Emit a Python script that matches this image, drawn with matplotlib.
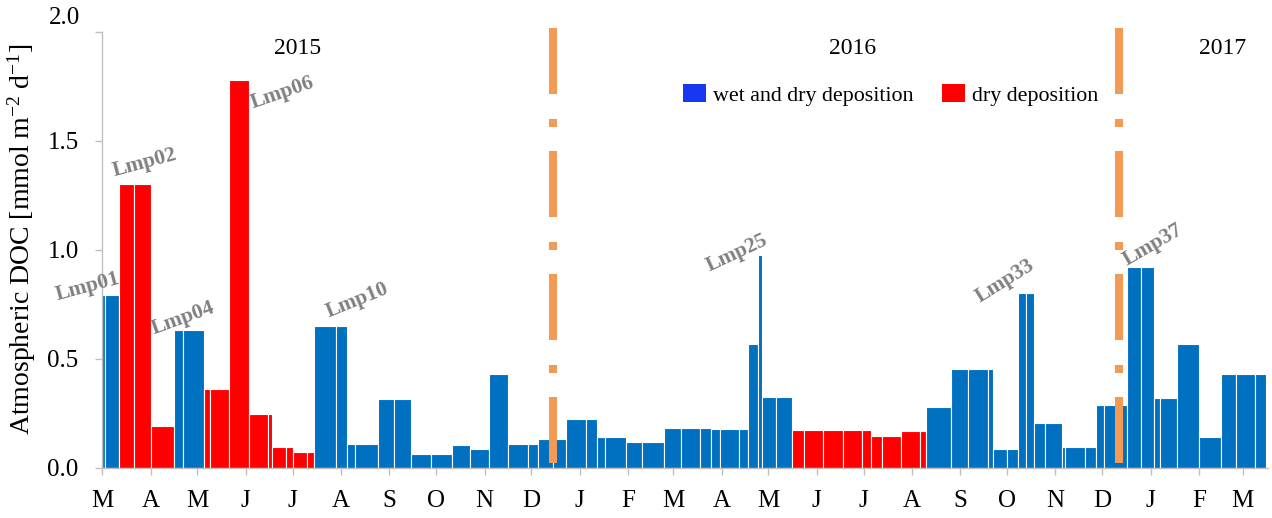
import numpy as np
import matplotlib
matplotlib.use("Agg")
import matplotlib.pyplot as plt
from matplotlib.patches import Patch

plt.rcParams['font.family'] = ['Liberation Serif', 'DejaVu Serif']
plt.rcParams['mathtext.fontset'] = 'custom'
plt.rcParams['mathtext.rm'] = 'Liberation Serif'
plt.rcParams['mathtext.it'] = 'Liberation Serif:italic'

# ---------------- data ----------------
start_date = np.datetime64('2015-03-01')
# sample interval edges, days after 2015-03-01
edges_day = [0, 2, 11, 20, 31, 46, 52, 65, 69, 81,
             94, 106, 109, 118, 122, 131, 136, 150, 157, 162,
             177, 187, 198, 211, 224, 236, 248, 260, 273,
             279, 289, 297, 310, 317, 322, 336, 346, 360, 371,
             383, 390, 396, 408, 414, 420, 423, 432, 442, 450,
             462, 475, 487, 493, 500, 512, 524, 528, 544, 555,
             568, 571, 580, 587, 592, 597, 604, 615, 617, 630,
             637, 642, 657, 666, 674, 678, 689, 703, 717,
             727, 739, 746]
doc_values = [0.79, 0.79, 1.30, 1.30, 0.19, 0.633, 0.633, 0.36, 0.36, 1.78,
              0.246, 0.246, 0.096, 0.096, 0.073, 0.073, 0.648, 0.648, 0.11, 0.11,
              0.314, 0.314, 0.061, 0.061, 0.103, 0.088, 0.428, 0.11, 0.11,
              0.132, 0.132, 0.225, 0.225, 0.142, 0.142, 0.119, 0.119, 0.183, 0.183,
              0.183, 0.177, 0.177, 0.177, 0.566, 0.975, 0.325, 0.325, 0.173, 0.173,
              0.173, 0.173, 0.173, 0.147, 0.147, 0.167, 0.167, 0.278, 0.454, 0.454,
              0.454, 0.084, 0.084, 0.80, 0.80, 0.204, 0.204, 0.096, 0.096, 0.096,
              0.287, 0.287, 0.922, 0.922, 0.321, 0.321, 0.567, 0.139, 0.428,
              0.428, 0.428]
deposition_type = (['W'] * 2 + ['D'] * 3 + ['W'] * 2 + ['D'] * 9 + ['W'] * 31
                   + ['D'] * 9 + ['W'] * 24)

sample_labels = ['Lmp01', 'Lmp02', 'Lmp04', 'Lmp06', 'Lmp10', 'Lmp25', 'Lmp33', 'Lmp37']
year_labels = ['2015', '2016', '2017']
month_letters = ['M', 'A', 'M', 'J', 'J', 'A', 'S', 'O', 'N', 'D', 'J', 'F',
                 'M', 'A', 'M', 'J', 'J', 'A', 'S', 'O', 'N', 'D', 'J', 'F', 'M']
year_break_day = [289, 652]
legend_labels = ['wet and dry deposition', 'dry deposition']
y_ticks = [0.0, 0.5, 1.0, 1.5, 2.0]

assert len(edges_day) == len(doc_values) + 1 == len(deposition_type) + 1

# ---------------- figure ----------------
W, H = 1272, 518
fig = plt.figure(figsize=(W / 100, H / 100), dpi=100)
ax_l, ax_r, ax_t, ax_b = 102.3, 1268, 31.7, 467.7
ax = fig.add_axes([ax_l / W, 1 - ax_b / H, (ax_r - ax_l) / W, (ax_b - ax_t) / H])

px_per_day = 1.56
xmax = (ax_r - ax_l) / px_per_day

blue = '#0070C0'
red = '#FF0000'
left = np.array(edges_day[:-1], dtype=float)
width = np.diff(np.array(edges_day, dtype=float))
colors = [blue if t == 'W' else red for t in deposition_type]
ax.bar(left, doc_values, width=width, align='edge', color=colors,
       edgecolor='white', linewidth=0.8, zorder=2)

ax.set_xlim(0, xmax)
ax.set_ylim(0, 2.0)

# month ticks
month_starts = np.arange(np.datetime64('2015-03'), np.datetime64('2017-04'),
                         np.timedelta64(1, 'M')).astype('datetime64[D]')
month_days = (month_starts - start_date).astype(int)
ax.set_xticks(month_days)
ax.set_xticklabels(month_letters, fontsize=18)
ax.set_yticks(y_ticks)
# top label (2.0) sits a little higher in the reference, drawn separately below
ax.set_yticklabels(['%.1f' % v for v in y_ticks[:-1]] + [''], fontsize=18)
ax.tick_params(axis='x', direction='out', length=5, width=1, color='#BFBFBF', pad=11)
ax.tick_params(axis='y', direction='out', length=5, width=1, color='#BFBFBF', pad=12)
ax.text(-22 / px_per_day, y_ticks[-1] + 14 / 218, '%.1f' % y_ticks[-1], fontsize=18,
        ha='right', va='center', clip_on=False)

for s in ['top', 'right']:
    ax.spines[s].set_visible(False)
for s in ['left', 'bottom']:
    ax.spines[s].set_color('#BFBFBF')
    ax.spines[s].set_linewidth(1)

# year separators
orange = '#F39B55'
lw_pt = 5.8
dash = (66 * 0.72 / lw_pt, 25 * 0.72 / lw_pt, 8 * 0.72 / lw_pt, 24 * 0.72 / lw_pt)
for d in year_break_day:
    ax.plot([d, d], [2.016, 0.0], color=orange, lw=lw_pt,
            linestyle=(0, dash), solid_capstyle='butt', dash_capstyle='butt',
            clip_on=False, zorder=3)

# year labels
year_x = [125, 481, 718]
for yl, yx in zip(year_labels, year_x):
    ax.text(yx, 1.925, yl, fontsize=17, ha='center', va='center', zorder=4)

# sample labels
lab_pos = [(-9.2, 0.828, 15), (27.4, 1.397, 15), (51.9, 0.687, 20), (115.8, 1.719, 19),
           (163.3, 0.769, 22), (406.9, 0.984, 25), (578.7, 0.856, 32), (673.5, 1.021, 30)]
for lab, (lx, ly, rot) in zip(sample_labels, lab_pos):
    ax.text(lx, ly, lab, fontsize=15.5, fontweight='bold', color='#808080',
            ha='center', va='center', rotation=rot, rotation_mode='anchor',
            clip_on=False, zorder=4)

# legend
handles = [Patch(facecolor='#1538F0', edgecolor='none'),
           Patch(facecolor=red, edgecolor='none')]
fig.legend(handles, legend_labels, loc='center left',
           bbox_to_anchor=(683 / W, 1 - 95 / H), ncol=2, frameon=False,
           fontsize=15.8, handlelength=1.05, handleheight=0.85, handletextpad=0.33,
           columnspacing=1.28, borderpad=0, borderaxespad=0)

# y label
fig.text(22 / W, 1 - 239 / H, 'Atmospheric DOC [mmol m$^{\\mathrm{-2}}$ d$^{\\mathrm{-1}}$]',
         rotation=90, ha='center', va='center', fontsize=20)

fig.savefig('out.png', dpi=100)
